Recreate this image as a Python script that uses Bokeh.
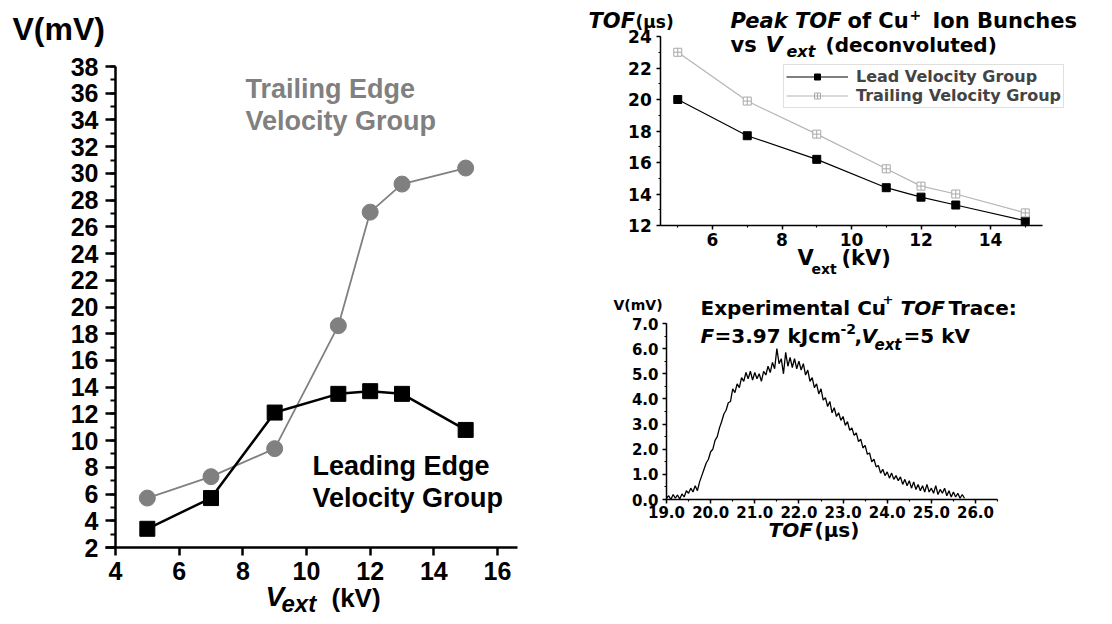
from bokeh.plotting import figure
from bokeh.models import Label, Legend, LegendItem, Range1d, SingleIntervalTicker, NumeralTickFormatter, LinearAxis
from bokeh.layouts import row, column
from bokeh.embed import file_html
from bokeh.resources import INLINE

FONT_L = "Liberation Sans"
FONT_R = "DejaVu Sans"

# ---------------- data ----------------
vext_kv = [5, 7, 9, 11, 12, 13, 15]
trailing_mv = [5.7, 7.3, 9.4, 18.6, 27.1, 29.2, 30.4]
leading_mv = [3.4, 5.7, 12.1, 13.5, 13.7, 13.5, 10.8]

lead_tof_us = [20.0, 17.7, 16.2, 14.4, 13.8, 13.3, 12.3]
trail_tof_us = [23.0, 19.9, 17.8, 15.6, 14.5, 14.0, 12.8]

trace_t0 = 19.0
trace_dt = 0.05
trace_mv = [
    0.05, 0.15, 0.00, 0.20, 0.05, 0.18, 0.02, 0.22, 0.10, 0.35,
    0.25, 0.45, 0.30, 0.55, 0.35, 0.70, 0.95, 1.20, 1.45, 1.60,
    1.90, 2.00, 2.35, 2.50, 2.85, 3.10, 3.40, 3.55, 3.85, 3.90,
    4.40, 4.25, 4.60, 4.45, 4.85, 4.70, 5.05, 4.80, 5.10, 4.75,
    5.05, 4.80, 5.00, 4.70, 5.10, 4.95, 5.30, 5.05, 5.45, 5.20,
    6.00, 5.40, 5.60, 5.00, 5.85, 5.30, 5.65, 5.25, 5.60, 5.20,
    5.50, 5.15, 5.40, 4.95, 5.15, 4.70, 4.85, 4.45, 4.60, 4.20,
    4.40, 3.95, 4.05, 3.70, 3.90, 3.45, 3.65, 3.30, 3.45, 3.15,
    3.30, 2.95, 3.10, 2.75, 2.85, 2.55, 2.65, 2.30, 2.40, 2.05,
    2.15, 1.80, 1.85, 1.50, 1.60, 1.30, 1.35, 1.05, 1.20, 0.95,
    1.10, 0.85, 1.05, 0.80, 0.95, 0.75, 0.90, 0.60, 0.80, 0.55,
    0.75, 0.45, 0.70, 0.40, 0.60, 0.35, 0.55, 0.30, 0.60, 0.30,
    0.45, 0.25, 0.55, 0.20, 0.40, 0.25, 0.45, 0.15, 0.35, 0.10,
    0.30, 0.10, 0.25, 0.05, 0.20, 0.05,
]
trace_t = [round(trace_t0 + trace_dt * i, 2) for i in range(len(trace_mv))]

BASELINE_FIX = 0.37  # measured offset of Bokeh's alphabetic baseline, in em


class Panel:
    """A figure whose frame fills the whole canvas; axes are pinned inside it."""

    def __init__(self, x0, y0, w, h, pxa, xa, pxb, xb, pya, ya, pyb, yb):
        self.sx = (xb - xa) / (pxb - pxa)
        self.sy = (yb - ya) / (pyb - pya)
        self.pxa, self.xa, self.pya, self.ya = pxa, xa, pya, ya
        xr = (self.dx(x0), self.dx(x0 + w))
        yr = (self.dy(y0 + h), self.dy(y0))
        p = figure(width=w, height=h, x_range=Range1d(*xr), y_range=Range1d(*yr),
                   output_backend="svg", toolbar_location=None,
                   x_axis_location=None, y_axis_location=None,
                   min_border=0, min_border_left=0, min_border_right=0,
                   min_border_top=0, min_border_bottom=0)
        p.outline_line_color = None
        p.grid.visible = False
        p.background_fill_color = "white"
        p.border_fill_color = "white"
        self.p = p

    def dx(self, px):
        return self.xa + (px - self.pxa) * self.sx

    def dy(self, py):
        return self.ya + (py - self.pya) * self.sy

    def axes(self, xloc, yloc, xbounds, ybounds, xtick, ytick, font, size, lw, maj, mino,
             xstand, ystand, fmt=None):
        ax_x = LinearAxis(fixed_location=xloc, bounds=xbounds, ticker=xtick)
        ax_y = LinearAxis(fixed_location=yloc, bounds=ybounds, ticker=ytick)
        ax_x.major_label_standoff = xstand
        ax_y.major_label_standoff = ystand
        for ax in (ax_x, ax_y):
            ax.axis_line_width = lw
            ax.axis_line_color = "black"
            ax.major_tick_line_width = lw
            ax.minor_tick_line_width = lw * 0.8
            ax.major_tick_line_color = "black"
            ax.minor_tick_line_color = "black"
            ax.major_tick_in = 0
            ax.minor_tick_in = 0
            ax.major_tick_out = maj
            ax.minor_tick_out = mino
            ax.major_label_text_font = font
            ax.major_label_text_font_style = "bold"
            ax.major_label_text_font_size = f"{size}px"
            ax.major_label_text_color = "black"
            if fmt:
                ax.formatter = NumeralTickFormatter(format=fmt)
        self.p.add_layout(ax_x, "below")
        self.p.add_layout(ax_y, "left")
        return ax_x, ax_y

    def txt(self, px, py, s, size, font, style="bold", color="black"):
        py = py - BASELINE_FIX * size
        self.p.add_layout(Label(x=self.dx(px), y=self.dy(py), text=s, text_font=font,
                                text_font_size=f"{size}px", text_font_style=style,
                                text_color=color, text_align="left",
                                text_baseline="alphabetic"))


# ---------------- main (left) plot ----------------
A = Panel(0, 0, 585, 620, 115, 4, 497, 16, 66, 38, 547, 2)
p1 = A.p
ax1x, ax1y = A.axes(2, 4, (A.dx(105), 16.64), (2, 38),
                    SingleIntervalTicker(interval=2, num_minor_ticks=0),
                    SingleIntervalTicker(interval=2, num_minor_ticks=2),
                    FONT_L, 25, 2.5, 10, 5, 6, 7)
ax1x.major_tick_out = 8

p1.line(vext_kv, trailing_mv, line_color="#808080", line_width=1.8)
p1.scatter(vext_kv, trailing_mv, marker="circle", size=16,
           fill_color="#808080", line_color="#808080")
p1.line(vext_kv, leading_mv, line_color="black", line_width=2.5)
p1.scatter(vext_kv, leading_mv, marker="square", size=15,
           fill_color="black", line_color="black")

A.txt(12, 40, "V(mV)", 32, FONT_L)
A.txt(245, 98, "Trailing Edge", 27, FONT_L, color="#808080")
A.txt(245, 130, "Velocity Group", 27, FONT_L, color="#808080")
A.txt(312, 475, "Leading Edge", 27, FONT_L)
A.txt(312, 507, "Velocity Group", 27, FONT_L)
A.txt(265, 606, "V", 28, FONT_L, style="bold italic")
A.txt(281, 612, "ext", 24, FONT_L, style="bold italic")
A.txt(331, 607, "(kV)", 26, FONT_L)

# ---------------- top-right inset ----------------
B = Panel(585, 0, 523, 280, 712, 6, 990, 14, 36, 24, 225, 12)
p2 = B.p
B.axes(12, 4.51, (4.51, 15.5), (12, 24),
       SingleIntervalTicker(interval=2, num_minor_ticks=2),
       SingleIntervalTicker(interval=2, num_minor_ticks=2),
       FONT_R, 17, 1.5, 4, 2, 3, 5)

l_lead = p2.line(vext_kv, lead_tof_us, line_color="black", line_width=1.2)
s_lead = p2.scatter(vext_kv, lead_tof_us, marker="square", size=8,
                    fill_color="black", line_color="black")
l_trail = p2.line(vext_kv, trail_tof_us, line_color="#b5b5b5", line_width=1.2)
s_trail = p2.scatter(vext_kv, trail_tof_us, marker="square_cross", size=8,
                     fill_color="white", line_color="#a8a8a8")

leg = Legend(items=[LegendItem(label="Lead Velocity Group", renderers=[l_lead, s_lead]),
                    LegendItem(label="Trailing Velocity Group", renderers=[l_trail, s_trail])],
             location=(198, 172))
leg.label_text_font = FONT_R
leg.label_text_font_style = "bold"
leg.label_text_font_size = "16px"
leg.label_height = 15
leg.glyph_height = 15
leg.glyph_width = 62
leg.label_standoff = 8
leg.spacing = 0
leg.padding = 2
leg.margin = 0
leg.border_line_color = "#c0c0c0"
leg.border_line_width = 1.5
leg.background_fill_color = "white"
p2.add_layout(leg, "center")

B.txt(588, 28, "TOF", 21, FONT_R, style="bold italic")
B.txt(635, 28, "(\u03bcs)", 17, FONT_R)
B.txt(730, 28, "Peak TOF", 21, FONT_R, style="bold italic")
B.txt(847, 28, "of Cu", 21, FONT_R)
B.txt(909, 20, "+", 14, FONT_R)
B.txt(932, 28, "Ion Bunches", 21, FONT_R)
B.txt(730, 52, "vs", 21, FONT_R)
B.txt(765, 52, "V", 22, FONT_R, style="bold italic")
B.txt(786, 57, "ext", 16, FONT_R, style="bold italic")
B.txt(825, 52, "(deconvoluted)", 20, FONT_R)
B.txt(797, 265, "V", 21, FONT_R)
B.txt(811, 274, "ext", 14, FONT_R)
B.txt(841, 265, "(kV)", 21, FONT_R)

# ---------------- bottom-right inset ----------------
C = Panel(585, 280, 523, 340, 666, 19, 975, 26, 323, 7, 499, 0)
p3 = C.p
C.axes(0, 19, (19, 26.5), (0, 7),
       SingleIntervalTicker(interval=1, num_minor_ticks=2),
       SingleIntervalTicker(interval=1, num_minor_ticks=2),
       FONT_R, 15, 1.5, 4, 2, 2, 4, fmt="0.0")

p3.line(trace_t, trace_mv, line_color="black", line_width=1.3)

C.txt(613, 310, "V(mV)", 14, FONT_R)
C.txt(700, 315, "Experimental Cu", 20, FONT_R)
C.txt(882, 304, "+", 13, FONT_R)
C.txt(900, 315, "TOF", 20, FONT_R, style="bold italic")
C.txt(948, 315, "Trace:", 20, FONT_R)
C.txt(700, 343, "F", 20, FONT_R, style="bold italic")
C.txt(714, 343, "=3.97 kJcm", 20, FONT_R)
C.txt(840, 334, "-2", 14, FONT_R)
C.txt(854, 343, ",", 20, FONT_R)
C.txt(861, 343, "V", 20, FONT_R, style="bold italic")
C.txt(874, 350, "ext", 15, FONT_R, style="bold italic")
C.txt(903, 343, "=5 kV", 20, FONT_R)
C.txt(768, 537, "TOF", 20, FONT_R, style="bold italic")
C.txt(814, 537, "(\u03bcs)", 20, FONT_R)

layout = row(p1, column(p2, p3))
open("out.html", "w").write(file_html(layout, INLINE))
